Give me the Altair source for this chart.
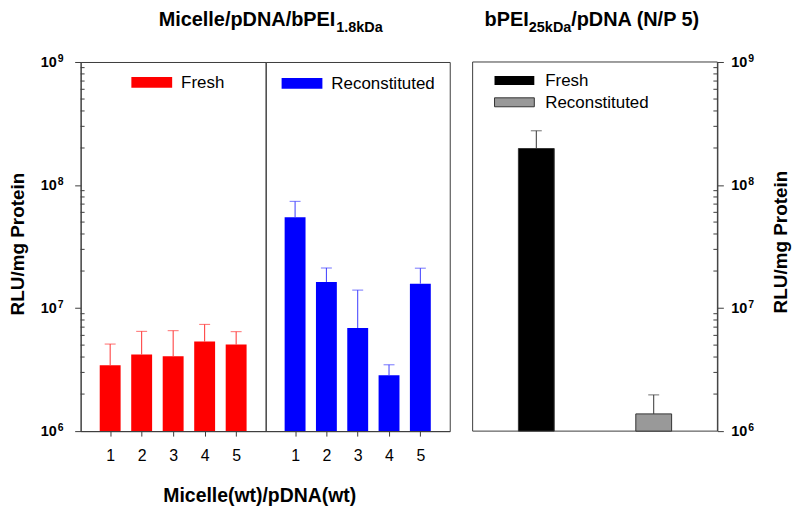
import altair as alt
import pandas as pd

# ---------------- data ----------------
ratio_labels = [1, 2, 3, 4, 5]
fresh_rlu = [3.43e6, 4.19e6, 4.06e6, 5.34e6, 5.05e6]
fresh_upper = [5.10e6, 6.47e6, 6.55e6, 7.37e6, 6.43e6]
recon_rlu = [5.47e7, 1.63e7, 6.89e6, 2.84e6, 1.58e7]
recon_upper = [7.37e7, 2.12e7, 1.40e7, 3.46e6, 2.11e7]
pei_groups = ["Fresh", "Reconstituted"]
pei_slots = [1, 3]
pei_rlu = [1.98e8, 1.38e6]
pei_upper = [2.76e8, 1.97e6]
decade_exponents = [6, 7, 8, 9]
minor_mults = [2, 3, 4, 5, 6, 7, 8, 9]

title_left_main = ["Micelle/pDNA/bPEI"]
title_left_sub = ["1.8kDa"]
title_right_a = ["bPEI"]
title_right_sub = ["25kDa"]
title_right_b = ["/pDNA (N/P 5)"]
x_title = ["Micelle(wt)/pDNA(wt)"]
y_title = ["RLU/mg Protein"]

# ---------------- styling ----------------
FONT = "Liberation Sans"
AX = "#3c3c3c"
H = 371
W_L = 186
W_M = 185
GAP = 23
W_R = GAP + 246
T_MAIN = -36
T_SUB = -30

majors = [10.0 ** e for e in decade_exponents]
minors = [m * 10.0 ** e for e in decade_exponents[:-1] for m in minor_mults]
lab_df = pd.DataFrame({"v": majors, "ten": ["10"] * len(majors),
                       "exp": [str(e) for e in decade_exponents]})
minor_df = pd.DataFrame({"v": minors})

ysc = alt.Scale(type="log", domain=[1e6, 1e9], nice=False)
xsc = alt.Scale(domain=[0.22, 5.78], nice=False, zero=False)

left_yaxis = alt.Axis(values=majors, labels=False, tickSize=6, tickColor=AX,
                      domainColor=AX, grid=False, title=None)
right_yaxis = alt.Axis(orient="right", values=majors, labels=False, tickSize=6,
                       tickColor=AX, domainColor=AX, grid=False, title=None)
xaxis = alt.Axis(values=ratio_labels, format="d", tickSize=5, labelFontSize=16,
                 labelPadding=12, labelFont=FONT, labelColor="black",
                 tickColor=AX, domainColor=AX, grid=False, title=None,
                 labelFlush=False)


def txt(lst, **kw):
    return alt.Chart(pd.DataFrame({"t": lst})).mark_text(font=FONT, color="black", **kw)


def bar_panel(vals, uppers, color, err_color, yaxis, legend_label, sw_x, sw_y):
    df = pd.DataFrame({"ratio": ratio_labels, "rlu": vals, "upper": uppers,
                       "base": [1e6] * len(vals)})

    def Y(f):
        if yaxis is None:
            return alt.Y(f"{f}:Q", scale=ysc, axis=None)
        return alt.Y(f"{f}:Q", scale=ysc, axis=yaxis)

    X = alt.X("ratio:Q", scale=xsc, axis=xaxis)
    bars = alt.Chart(df).mark_bar(size=21, color=color).encode(
        x=X, y=Y("rlu"), y2=alt.Y2("base:Q"))
    err = alt.Chart(df).mark_rule(color=err_color, strokeWidth=1).encode(
        x=X, y=Y("rlu"), y2=alt.Y2("upper:Q"))
    cap = alt.Chart(df).mark_tick(color=err_color, orient="horizontal", size=11,
                                  thickness=1).encode(x=X, y=Y("upper"))
    leg = pd.DataFrame({"t": [legend_label]})
    sw = alt.Chart(leg).mark_rect(color=color).encode(
        x=alt.value(sw_x), x2=alt.value(sw_x + 41),
        y=alt.value(sw_y), y2=alt.value(sw_y + 11))
    lt = alt.Chart(leg).mark_text(font=FONT, fontSize=17, align="left",
                                  baseline="middle", color="black").encode(
        x=alt.value(sw_x + 50), y=alt.value(sw_y + 6), text="t:N")
    layers = [bars, err, cap, sw, lt]
    return layers, Y


# ---- left panel (Fresh) ----
l_layers, Yl = bar_panel(fresh_rlu, fresh_upper, "#ff0000", "#ff3030", left_yaxis,
                         "Fresh", 51, 15)
l_minor = alt.Chart(minor_df).mark_rule(color=AX).encode(
    x=alt.value(0), x2=alt.value(4), y=Yl("v"))
l_ten = alt.Chart(lab_df).mark_text(font=FONT, fontSize=14.5, fontWeight="bold",
                                    align="right", baseline="alphabetic", dy=5,
                                    color="black").encode(
    x=alt.value(-24), y=Yl("v"), text="ten:N")
l_exp = alt.Chart(lab_df).mark_text(font=FONT, fontSize=10.5, fontWeight="bold",
                                    align="left", baseline="alphabetic", dy=0,
                                    color="black").encode(
    x=alt.value(-23), y=Yl("v"), text="exp:N")
l_title = txt(title_left_main, fontSize=20, fontWeight="bold", align="right",
              baseline="alphabetic").encode(x=alt.value(256), y=alt.value(T_MAIN), text="t:N")
l_sub = txt(title_left_sub, fontSize=14.5, fontWeight="bold", align="left",
            baseline="alphabetic").encode(x=alt.value(257), y=alt.value(T_SUB), text="t:N")
l_xt = txt(x_title, fontSize=19.5, fontWeight="bold", align="center",
           baseline="alphabetic").encode(x=alt.value(180), y=alt.value(442), text="t:N")
l_yt = txt(y_title, fontSize=19, fontWeight="bold", align="center",
           baseline="alphabetic", angle=270).encode(x=alt.value(-57), y=alt.value(183), text="t:N")
left = alt.layer(*l_layers, l_minor, l_ten, l_exp, l_title, l_sub, l_xt, l_yt).properties(
    width=W_L, height=H)

# ---- middle panel (Reconstituted) ----
m_layers, Ym = bar_panel(recon_rlu, recon_upper, "#0000ff", "#3a3aff", None,
                         "Reconstituted", 16, 16)
mid = alt.layer(*m_layers).properties(width=W_M, height=H)

# ---- right panel (bPEI 25kDa) ----
rdf = pd.DataFrame({"slot": pei_slots, "group": pei_groups, "rlu": pei_rlu,
                    "upper": pei_upper, "base": [1e6] * len(pei_rlu)})
xsc_r = alt.Scale(domain=[0, 4], range=[GAP, W_R], nice=False, zero=False)
Xr = alt.X("slot:Q", scale=xsc_r, axis=None)


def Yr(f):
    return alt.Y(f"{f}:Q", scale=ysc, axis=right_yaxis)


cscale = alt.Scale(domain=pei_groups, range=["#000000", "#999999"])
r_bars = alt.Chart(rdf).mark_bar(size=36, stroke="#333333", strokeWidth=1).encode(
    x=Xr, y=Yr("rlu"), y2=alt.Y2("base:Q"),
    color=alt.Color("group:N", scale=cscale, legend=None))
r_err = alt.Chart(rdf).mark_rule(color="#333333", strokeWidth=1).encode(
    x=Xr, y=Yr("rlu"), y2=alt.Y2("upper:Q"))
r_cap = alt.Chart(rdf).mark_tick(color="#333333", orient="horizontal", size=11,
                                 thickness=1).encode(x=Xr, y=Yr("upper"))
r_frame = alt.Chart(pd.DataFrame({"t": ["frame"]})).mark_rect(
    filled=False, stroke=AX, strokeWidth=1).encode(
    x=alt.value(GAP), x2=alt.value(W_R), y=alt.value(0), y2=alt.value(H))
r_minor = alt.Chart(minor_df).mark_rule(color=AX).encode(
    x=alt.value(W_R - 4), x2=alt.value(W_R), y=Yr("v"))
r_ten = alt.Chart(lab_df).mark_text(font=FONT, fontSize=14.5, fontWeight="bold",
                                    align="left", baseline="alphabetic", dy=5,
                                    color="black").encode(
    x=alt.value(W_R + 14), y=Yr("v"), text="ten:N")
r_exp = alt.Chart(lab_df).mark_text(font=FONT, fontSize=10.5, fontWeight="bold",
                                    align="left", baseline="alphabetic", dy=0,
                                    color="black").encode(
    x=alt.value(W_R + 31), y=Yr("v"), text="exp:N")
r_leg1 = alt.Chart(pd.DataFrame({"t": [pei_groups[0]]})).mark_rect(
    color="#000000").encode(x=alt.value(45), x2=alt.value(85),
                            y=alt.value(14), y2=alt.value(23))
r_leg2 = alt.Chart(pd.DataFrame({"t": [pei_groups[1]]})).mark_rect(
    fill="#999999", stroke="#333333", strokeWidth=1).encode(
    x=alt.value(45), x2=alt.value(85), y=alt.value(36), y2=alt.value(45))
r_lt1 = txt([pei_groups[0]], fontSize=17, align="left", baseline="middle").encode(
    x=alt.value(96), y=alt.value(19), text="t:N")
r_lt2 = txt([pei_groups[1]], fontSize=17, align="left", baseline="middle").encode(
    x=alt.value(96), y=alt.value(41), text="t:N")
r_t1 = txt(title_right_a, fontSize=20, fontWeight="bold", align="left",
           baseline="alphabetic").encode(x=alt.value(35), y=alt.value(T_MAIN), text="t:N")
r_t2 = txt(title_right_sub, fontSize=14.5, fontWeight="bold", align="left",
           baseline="alphabetic").encode(x=alt.value(79.5), y=alt.value(T_SUB), text="t:N")
r_t3 = txt(title_right_b, fontSize=20, fontWeight="bold", align="left",
           baseline="alphabetic").encode(x=alt.value(122), y=alt.value(T_MAIN), text="t:N")
r_yt = txt(y_title, fontSize=19, fontWeight="bold", align="center",
           baseline="alphabetic", angle=270).encode(x=alt.value(W_R + 70), y=alt.value(181), text="t:N")
right = alt.layer(r_frame, r_bars, r_err, r_cap, r_minor, r_ten, r_exp, r_leg1,
                  r_leg2, r_lt1, r_lt2, r_t1, r_t2, r_t3, r_yt).properties(
    width=W_R, height=H, view=alt.ViewBackground(stroke="transparent"))

chart = alt.hconcat(left, mid, right, spacing=0, bounds="flush").properties(
    padding=0
).configure_view(stroke=AX, strokeWidth=1).configure_axis(
    domainWidth=1, tickWidth=1)

chart.save("out.html", embed_options={"renderer": "svg", "actions": False})
